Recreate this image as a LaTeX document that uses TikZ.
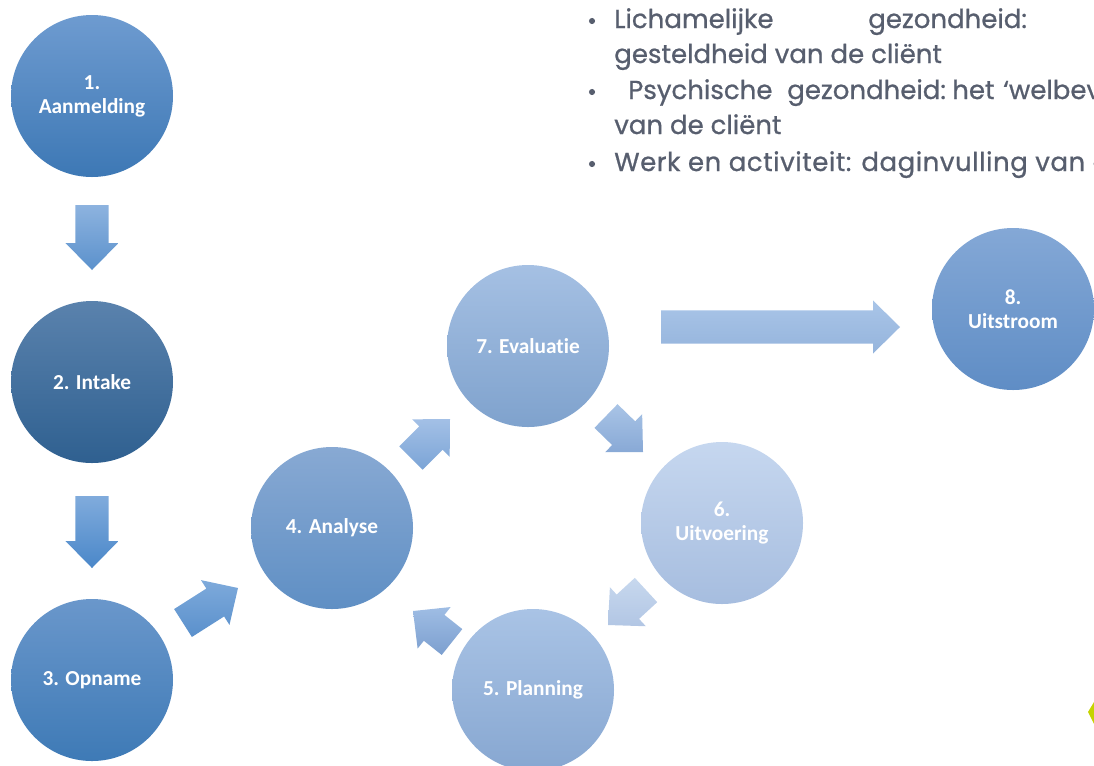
\documentclass[tikz,border=0pt]{standalone}
\usepackage{fontspec}
\setmainfont{Carlito}[Ligatures=NoCommon]
\newfontfamily\listfont{Poppins}[FakeBold=0.8]
\usetikzlibrary{calc}

% circle fills (top / bottom of the vertical gradient)
\definecolor{cAt}{HTML}{6E9BD0}\definecolor{cAb}{HTML}{3D78B5}
\definecolor{cBt}{HTML}{5A82AD}\definecolor{cBb}{HTML}{2F6090}
\definecolor{cCt}{HTML}{6A97CB}\definecolor{cCb}{HTML}{3E7AB6}
\definecolor{cDt}{HTML}{88A9D3}\definecolor{cDb}{HTML}{5F8FC4}
\definecolor{cEt}{HTML}{A9C3E5}\definecolor{cEb}{HTML}{87A7D1}
\definecolor{cFt}{HTML}{C6D7EF}\definecolor{cFb}{HTML}{A6BDDF}
\definecolor{cGt}{HTML}{A5C0E3}\definecolor{cGb}{HTML}{7FA2CD}
\definecolor{cHt}{HTML}{84A8D6}\definecolor{cHb}{HTML}{5F8DC5}
% arrow fills
\definecolor{aAt}{HTML}{8DB3DF}\definecolor{aAb}{HTML}{5B91CC}
\definecolor{aBt}{HTML}{80ABDC}\definecolor{aBb}{HTML}{4A87C9}
\definecolor{aCt}{HTML}{7EAADB}\definecolor{aCb}{HTML}{5A90CC}
\definecolor{aDt}{HTML}{A3C0E6}\definecolor{aDb}{HTML}{7BA4D6}
\definecolor{aEt}{HTML}{A9C4E6}\definecolor{aEb}{HTML}{88A9D6}
\definecolor{aFt}{HTML}{C7D8EE}\definecolor{aFb}{HTML}{B2C6E4}
\definecolor{aGt}{HTML}{9FBDE4}\definecolor{aGb}{HTML}{7C9FCF}
\definecolor{aHt}{HTML}{A9C5E8}\definecolor{aHb}{HTML}{95B4DC}
\definecolor{listtext}{HTML}{575E6E}
\definecolor{leaf}{HTML}{C5D300}

% block arrow from #1 (tail centre) to #2 (tip), filled with style #3
\newcommand\flowarrow[3]{%
  \coordinate (neck) at ($(#2)!20.25pt!(#1)$);
  \path[#3] ($(#1)!12.4pt!90:(#2)$) -- ($(neck)!12.4pt!90:(#2)$)
    -- ($(neck)!19.9pt!90:(#2)$) -- (#2) -- ($(neck)!19.9pt!-90:(#2)$)
    -- ($(neck)!12.4pt!-90:(#2)$) -- ($(#1)!12.4pt!-90:(#2)$) -- cycle;}

\begin{document}
\begin{tikzpicture}[x=0.75pt,y=-0.75pt,
  stepcircle/.style={circle, minimum size=121.5pt, inner sep=0pt,
    text=white, align=center, font=\bfseries\fontsize{16}{18}\selectfont},
  listline/.style={anchor=base west, inner sep=0pt, text=listtext,
    font=\listfont\fontsize{19.5}{22}\selectfont},
  grad/.style n args={2}{top color=#1, bottom color=#2},
]
\useasboundingbox (0,0) rectangle (1094,765);
\clip (0,0) rectangle (1094,765);

% process steps
\node[stepcircle, grad={cAt}{cAb}] (s1) at (92,96)   {1.\\Aanmelding};
\node[stepcircle, grad={cBt}{cBb}] (s2) at (92,382)  {2. Intake};
\node[stepcircle, grad={cCt}{cCb}] (s3) at (92,680)  {3. Opname};
\node[stepcircle, grad={cDt}{cDb}] (s4) at (332,528) {4. Analyse};
\node[stepcircle, grad={cEt}{cEb}] (s5) at (533,690) {5. Planning};
\node[stepcircle, grad={cFt}{cFb}] (s6) at (722,523) {6.\\Uitvoering};
\node[stepcircle, grad={cGt}{cGb}] (s7) at (528,346) {7. Evaluatie};
\node[stepcircle, grad={cHt}{cHb}] (s8) at (1013,309) {8.\\Uitstroom};

% arrow end points between the steps
\coordinate (a12s) at (92,205);   \coordinate (a12e) at (92,270);
\coordinate (a23s) at (92,496);   \coordinate (a23e) at (92,568);
\coordinate (a34s) at (183,623);  \coordinate (a34e) at (238,588);
\coordinate (a47s) at (411,458);  \coordinate (a47e) at (450,419);
\coordinate (a76s) at (606,416);  \coordinate (a76e) at (643,452);
\coordinate (a65s) at (646,590);  \coordinate (a65e) at (608,625);
\coordinate (a54s) at (452,642);  \coordinate (a54e) at (413,611);
\coordinate (a78s) at (661,327);  \coordinate (a78e) at (900,327);

\flowarrow{a12s}{a12e}{grad={aAt}{aAb}}
\flowarrow{a23s}{a23e}{grad={aBt}{aBb}}
\flowarrow{a34s}{a34e}{grad={aCt}{aCb}}
\flowarrow{a47s}{a47e}{grad={aDt}{aDb}}
\flowarrow{a76s}{a76e}{grad={aEt}{aEb}}
\flowarrow{a65s}{a65e}{grad={aFt}{aFb}}
\flowarrow{a54s}{a54e}{grad={aGt}{aGb}}
\flowarrow{a78s}{a78e}{grad={aHt}{aHb}}

% bullet list (justified lines, running past the right edge)
\foreach \y in {21,92,164} \fill[listtext] (592,\y) circle (2.3pt);
\node[listline] (l1a) at (614,28)  {Lichamelijke};
\node[listline] (l1b) at (868,28)  {gezondheid:};
\node[listline] (l2)  at (614,63)  {gesteldheid van de cliënt};
\node[listline] (l3a) at (628,99)  {Psychische};
\node[listline] (l3b) at (787,99)  {gezondheid:};
\node[listline] (l3c) at (952,99)  {het};
\node[listline] (l3d) at (1003,99) {‘welbevinden’};
\node[listline] (l4)  at (614,134) {van de cliënt};
\node[listline] (l5)  at (614,171)
  {\addfontfeature{LetterSpace=2.1}Werk en activiteit: daginvulling van de cliënt};

% leaf mark at the lower right edge
\fill[leaf] (1094,702) -- (1088,712) -- (1094,724) -- cycle;
\end{tikzpicture}
\end{document}
